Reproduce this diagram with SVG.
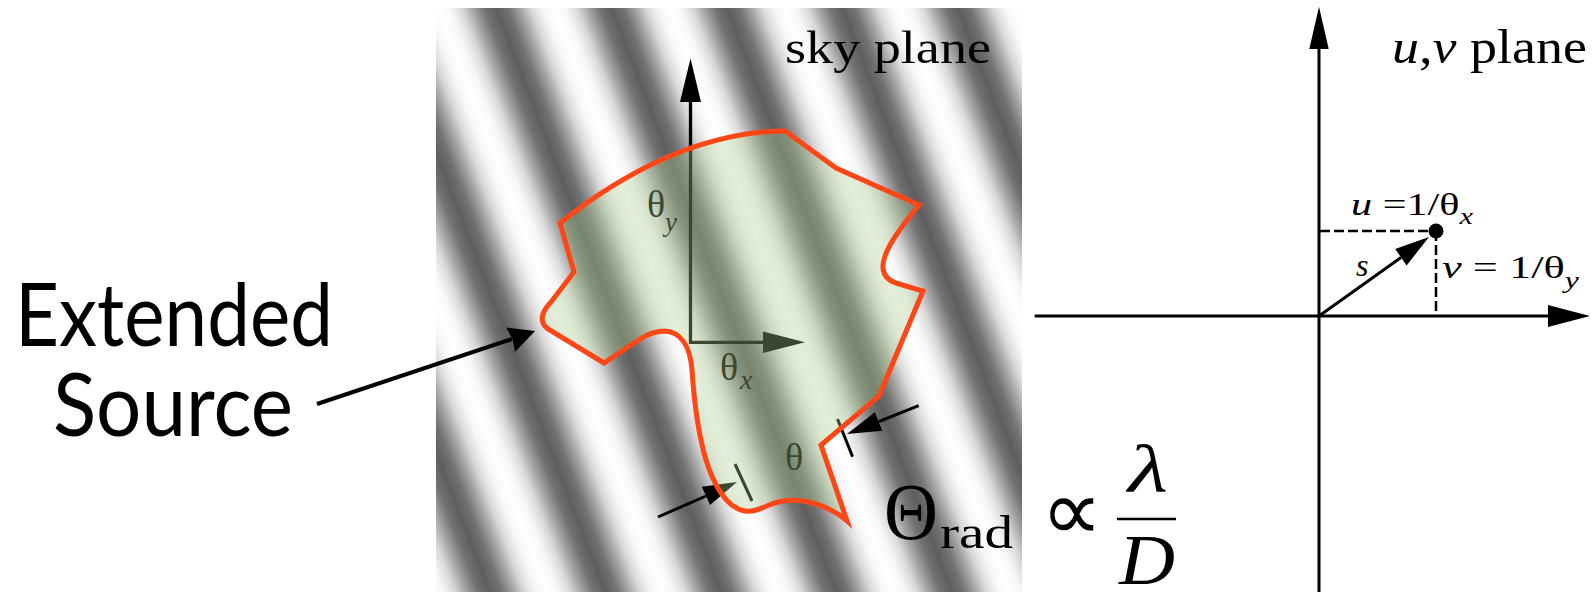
<svg xmlns="http://www.w3.org/2000/svg" width="1595" height="592" viewBox="0 0 1595 592">
<defs>
<linearGradient id="stripes" gradientUnits="userSpaceOnUse" x1="31" y1="0" x2="146.5" y2="0" spreadMethod="repeat" gradientTransform="skewX(21.05)">
<stop offset="0" stop-color="#5e5e5e"/>
<stop offset="0.1" stop-color="#727272"/>
<stop offset="0.2" stop-color="#a2a2a2"/>
<stop offset="0.3" stop-color="#d8d8d8"/>
<stop offset="0.4" stop-color="#f6f6f6"/>
<stop offset="0.5" stop-color="#ffffff"/>
<stop offset="0.6" stop-color="#f6f6f6"/>
<stop offset="0.7" stop-color="#d8d8d8"/>
<stop offset="0.8" stop-color="#a2a2a2"/>
<stop offset="0.9" stop-color="#727272"/>
<stop offset="1" stop-color="#5e5e5e"/>
</linearGradient>
<style>
.serif{font-family:"Liberation Serif","Times New Roman",serif;fill:#000}
.it{font-style:italic}
.sans{font-family:Lato,"Open Sans",sans-serif;fill:#000}
.ln{stroke:#000;fill:none}
.ah{fill:#000;stroke:none}
.dash{stroke:#000;stroke-width:2.5;stroke-dasharray:10 4;fill:none}
</style>
</defs>
<rect width="1595" height="592" fill="#fff"/>

<g id="sky-plane">
<rect x="436" y="8" width="586" height="584" fill="url(#stripes)"/>
<text class="serif" x="785" y="63" font-size="47" textLength="206" lengthAdjust="spacingAndGlyphs">sky plane</text>
</g>

<g id="sky-axes">
<path class="ln" d="M690.5 100 V342.3 H765" stroke-width="3.3"/>
<polygon class="ah" points="690.5,58.5 680,102 701,102"/>
<polygon class="ah" points="805,342.3 763,331.5 763,353.1"/>
<text class="serif" x="647" y="217" font-size="38">θ</text>
<text class="serif it" x="665" y="231" font-size="27">y</text>
<text class="serif" x="720" y="380" font-size="38">θ</text>
<text class="serif it" x="740" y="389" font-size="28">x</text>
<text class="serif" x="785" y="470" font-size="38">θ</text>
</g>

<g id="measure-arrows">
<path class="ln" d="M658 517 L706 496" stroke-width="3"/>
<polygon class="ah" points="737,482 701.8,486.7 710,505"/>
<path class="ln" d="M735 464 L752 501" stroke-width="3"/>
<path class="ln" d="M918.7 405.7 L879 421.5" stroke-width="3"/>
<polygon class="ah" points="847,434 874.9,412.2 882.3,430.8"/>
<path class="ln" d="M837.5 419 L852.6 456.7" stroke-width="3"/>
</g>

<g id="extended-source-shape">
<path d="M560 223 Q675 132 785 131 L836 168 L919 205 C900 228 882 252 883 268 Q884 279 896 283 L923 291 L879 396 L821 445 L847 521 C830 506 805 498 783 501 C768 503 758 513 745 511 C725 508 712 480 706 460 C697 430 694 400 692 370 C690 345 680 332 665 331 C655 331 648 334 640 339 L604 363 L548 329 Q535 319 551 302 L574 272 Z" fill="#add08d" fill-opacity="0.34" stroke="#ff4616" stroke-width="5" stroke-linejoin="miter"/>
</g>

<g id="label-extended-source">
<text class="sans" x="15" y="346" font-size="88" textLength="318" lengthAdjust="spacingAndGlyphs">Extended</text>
<text class="sans" x="53" y="436" font-size="88" textLength="240" lengthAdjust="spacingAndGlyphs">Source</text>
</g>

<g id="connectors">
<path class="ln" d="M317 404 L512 339" stroke-width="4"/>
<polygon class="ah" points="535,331 506,327.5 512.5,339 515,352"/>
</g>

<g id="resolution-formula">
<text class="serif" x="884" y="539" font-size="80" textLength="54" lengthAdjust="spacingAndGlyphs">Θ</text>
<text class="serif" x="940" y="548" font-size="47" textLength="73" lengthAdjust="spacingAndGlyphs">rad</text>
<text x="1041" y="540" font-size="86" style="font-family:'DejaVu Sans',sans-serif">∝</text>
<text class="serif it" x="1128" y="492" font-size="68" textLength="40" lengthAdjust="spacingAndGlyphs">λ</text>
<path class="ln" d="M1117 519 H1176" stroke-width="2.5"/>
<text class="serif it" x="1119" y="584" font-size="72" textLength="56" lengthAdjust="spacingAndGlyphs">D</text>
</g>

<g id="uv-plane">
<path class="ln" d="M1319 592 V47" stroke-width="3"/>
<polygon class="ah" points="1319,6.8 1309.3,49 1328.7,49"/>
<path class="ln" d="M1034.7 316 H1550" stroke-width="3"/>
<polygon class="ah" points="1590,316 1548,305 1548,327"/>
<text class="serif" x="1392" y="63" font-size="48" textLength="195" lengthAdjust="spacingAndGlyphs"><tspan class="it">u</tspan>,<tspan class="it">v</tspan> plane</text>
</g>

<g id="uv-point">
<path class="dash" d="M1320 231 H1436 M1436 231 V315"/>
<circle cx="1436" cy="231" r="7.5" fill="#000"/>
<path class="ln" d="M1319 316 L1401 257.5" stroke-width="3"/>
<polygon class="ah" points="1429,237 1395.2,249 1406.6,265.4"/>
<text class="serif it" x="1356" y="276" font-size="32">s</text>
<text class="serif" x="1351" y="215" font-size="32" textLength="122" lengthAdjust="spacingAndGlyphs"><tspan class="it">u</tspan> =1/θ<tspan class="it" font-size="23" dy="9">x</tspan></text>
<text class="serif" x="1442" y="278" font-size="32" textLength="137" lengthAdjust="spacingAndGlyphs"><tspan class="it">v</tspan> = 1/θ<tspan class="it" font-size="23" dy="10">y</tspan></text>
</g>
</svg>
